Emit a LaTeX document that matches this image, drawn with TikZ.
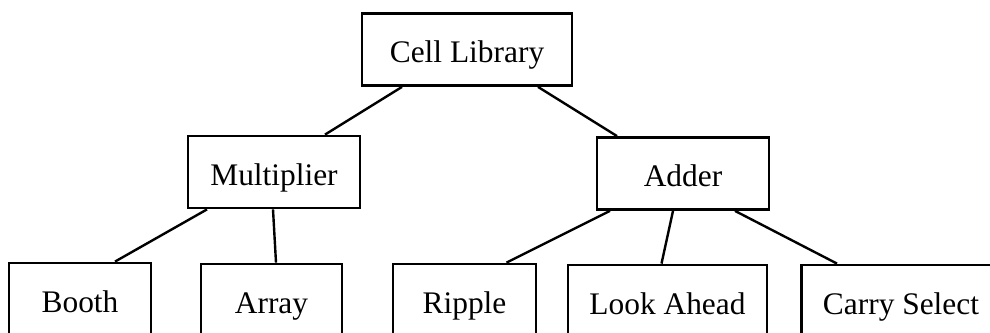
\documentclass[tikz,border=0pt]{standalone}
\usepackage{fontspec}
\setmainfont{Liberation Serif}
\usepackage{tikz}
\usetikzlibrary{calc}

\begin{document}
\begin{tikzpicture}[x=0.5pt,y=-0.5pt,
   box/.style={draw,line width=1.4pt,rectangle,inner sep=0pt,minimum height=36pt,
      text height=13.5pt,text depth=0.5pt,font=\fontsize{15.7pt}{18pt}\selectfont},
   link/.style={line width=1.2pt}]

\useasboundingbox (0,0) rectangle (990,332);

% top level
\node (cell) at (467,49.5) [box,minimum width=105pt] {Cell Library};

% second level
\node (mult) at (274,172) [box,minimum width=86pt] {Multiplier};
\node (adder) at (683,173.5) [box,minimum width=86pt] {Adder};

% leaves
\node (booth) at (80,299) [box,minimum width=71pt] {Booth};
\node (array) at (271.5,300) [box,minimum width=70.5pt] {Array};
\node (ripple) at (464.5,300) [box,minimum width=71.5pt] {Ripple};
\node (look) at (667.5,301) [box,minimum width=99.5pt] {Look Ahead};
\node (carry) at (901,301) [box,minimum width=99.5pt] {Carry Select};

\draw [link] ($(cell.south)+(-65,0)$) -- ($(mult.north)+(51,0)$);
\draw [link] ($(cell.south)+(71,0)$) -- ($(adder.north)+(-66,0)$);

\draw [link] ($(mult.south)+(-67,0)$) -- ($(booth.north)+(35,0)$);
\draw [link] ($(mult.south)+(-1,0)$) -- ($(array.north)+(4.5,0)$);

\draw [link] ($(adder.south)+(-73,0)$) -- ($(ripple.north)+(42,0)$);
\draw [link] ($(adder.south)+(-10,0)$) -- ($(look.north)+(-6,0)$);
\draw [link] ($(adder.south)+(52,0)$) -- ($(carry.north)+(-64,0)$);

\end{tikzpicture}
\end{document}
